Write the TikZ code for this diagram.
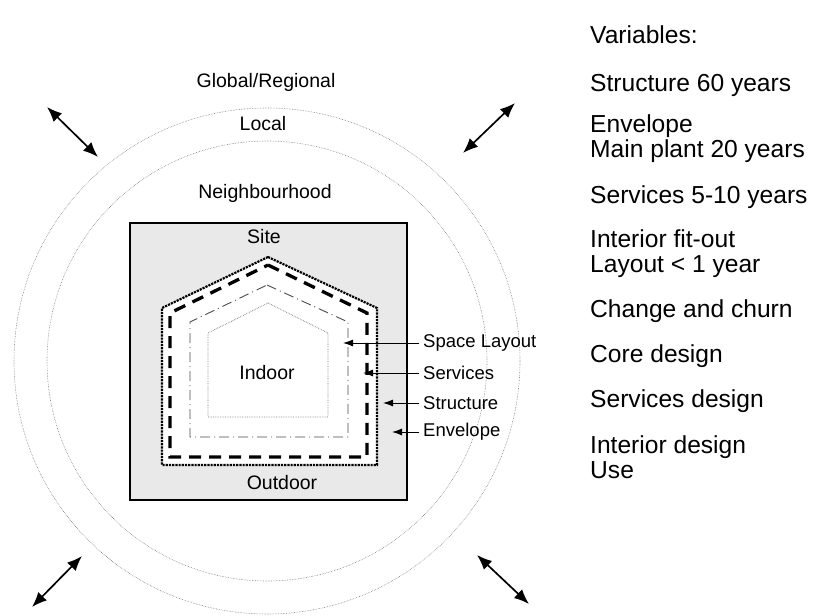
\documentclass[tikz,border=0pt]{standalone}
\usepackage{fontspec}
\setmainfont{Liberation Sans}
\usepackage{tikz}
\usetikzlibrary{arrows.meta}
\definecolor{sitegray}{RGB}{233,233,233}
\tikzset{
    ring/.style = {draw=gray, densely dotted, line width=0.6pt},
    zonelabel/.style = {font=\fontsize{19.5}{22}\selectfont, inner sep=0pt},
    layerlabel/.style = {font=\fontsize{18.5}{22}\selectfont, anchor=west, inner sep=0pt},
    varlabel/.style = {font=\fontsize{24.6}{25}\selectfont, anchor=west, align=left, inner sep=0pt},
}

\begin{document}
\begin{tikzpicture}[
	x=1pt, y=-1pt,
	line join=miter
]
\tikzset{
    pointer/.style = {-{Latex[length=10pt,width=7pt]}, line width=1pt},
    flow/.style = {{Latex[length=15pt,width=12pt]}-{Latex[length=15pt,width=12pt]}, line width=1.7pt}
}
\useasboundingbox (0,0) rectangle (825,616);
%
\draw[ring] (267,361) circle (253);
\draw[ring] (267,361) circle (220);
\draw[fill=sitegray, line width=1.8pt] (130,223) rectangle (407,500);
%
\draw[fill=white, densely dotted, line width=2.2pt] (268,257) -- (377,308) -- (377,465) -- (162,465) -- (162,308) -- cycle;
\draw[dash pattern=on 12pt off 8pt, line width=3.3pt] (268,265) -- (367,313) -- (367,457) -- (170,457) -- (170,313) -- cycle;
\draw[gray!60!black, dash pattern=on 10pt off 4pt on 1pt off 4pt, line width=0.9pt] (267,285) -- (348,322) -- (348,437) -- (190,437) -- (190,322) -- cycle;
\draw[gray, densely dotted, line width=0.7pt] (268,303) -- (328,333) -- (328,417) -- (208,417) -- (208,333) -- cycle;
%
\node[zonelabel] at (266,82) (global) {Global/Regional};
\node[zonelabel] at (263,124) (local) {Local};
\node[zonelabel] at (265,193) (neigh) {Neighbourhood};
\node[zonelabel] at (264,237) (site) {Site};
\node[zonelabel] at (267,373) (indoor) {Indoor};
\node[zonelabel] at (282,483) (outdoor) {Outdoor};
%
\node[layerlabel] at (423,343) (space) {Space Layout};
\node[layerlabel] at (423,373) (serv) {Services};
\node[layerlabel] at (423,403) (struct) {Structure};
\node[layerlabel] at (423,432) (env) {Envelope};
\coordinate (spacetip) at (343,343);
\coordinate (servtip) at (363,373);
\coordinate (structtip) at (383,403);
\coordinate (envtip) at (392,432);
\draw[pointer] (space.west) ++(-4,0) -- (spacetip);
\draw[pointer] (serv.west) ++(-4,0) -- (servtip);
\draw[pointer] (struct.west) ++(-4,0) -- (structtip);
\draw[pointer] (env.west) ++(-4,0) -- (envtip);
%
\coordinate (tlout) at (47,107);
\coordinate (tlin) at (98,157);
\coordinate (trout) at (515,103);
\coordinate (trin) at (463,153);
\coordinate (blout) at (32,607);
\coordinate (blin) at (82,556);
\coordinate (brout) at (529,604);
\coordinate (brin) at (477,555);
\draw[flow] (tlout) -- (tlin);
\draw[flow] (trout) -- (trin);
\draw[flow] (blout) -- (blin);
\draw[flow] (brout) -- (brin);
%
\node[varlabel] at (590,35) (vars) {Variables:};
\node[varlabel] at (590,85) (v1) {Structure 60 years};
\node[varlabel] at (590,139) (v2) {Envelope\\Main plant 20 years};
\node[varlabel] at (590,197) (v3) {Services 5-10 years};
\node[varlabel] at (590,254) (v4) {Interior fit-out\\Layout < 1 year};
\node[varlabel] at (590,311) (v5) {Change and churn};
\node[varlabel] at (590,356) (v6) {Core design};
\node[varlabel] at (590,401) (v7) {Services design};
\node[varlabel] at (590,457) (v8) {Interior design\\Use};
\end{tikzpicture}
\end{document}
